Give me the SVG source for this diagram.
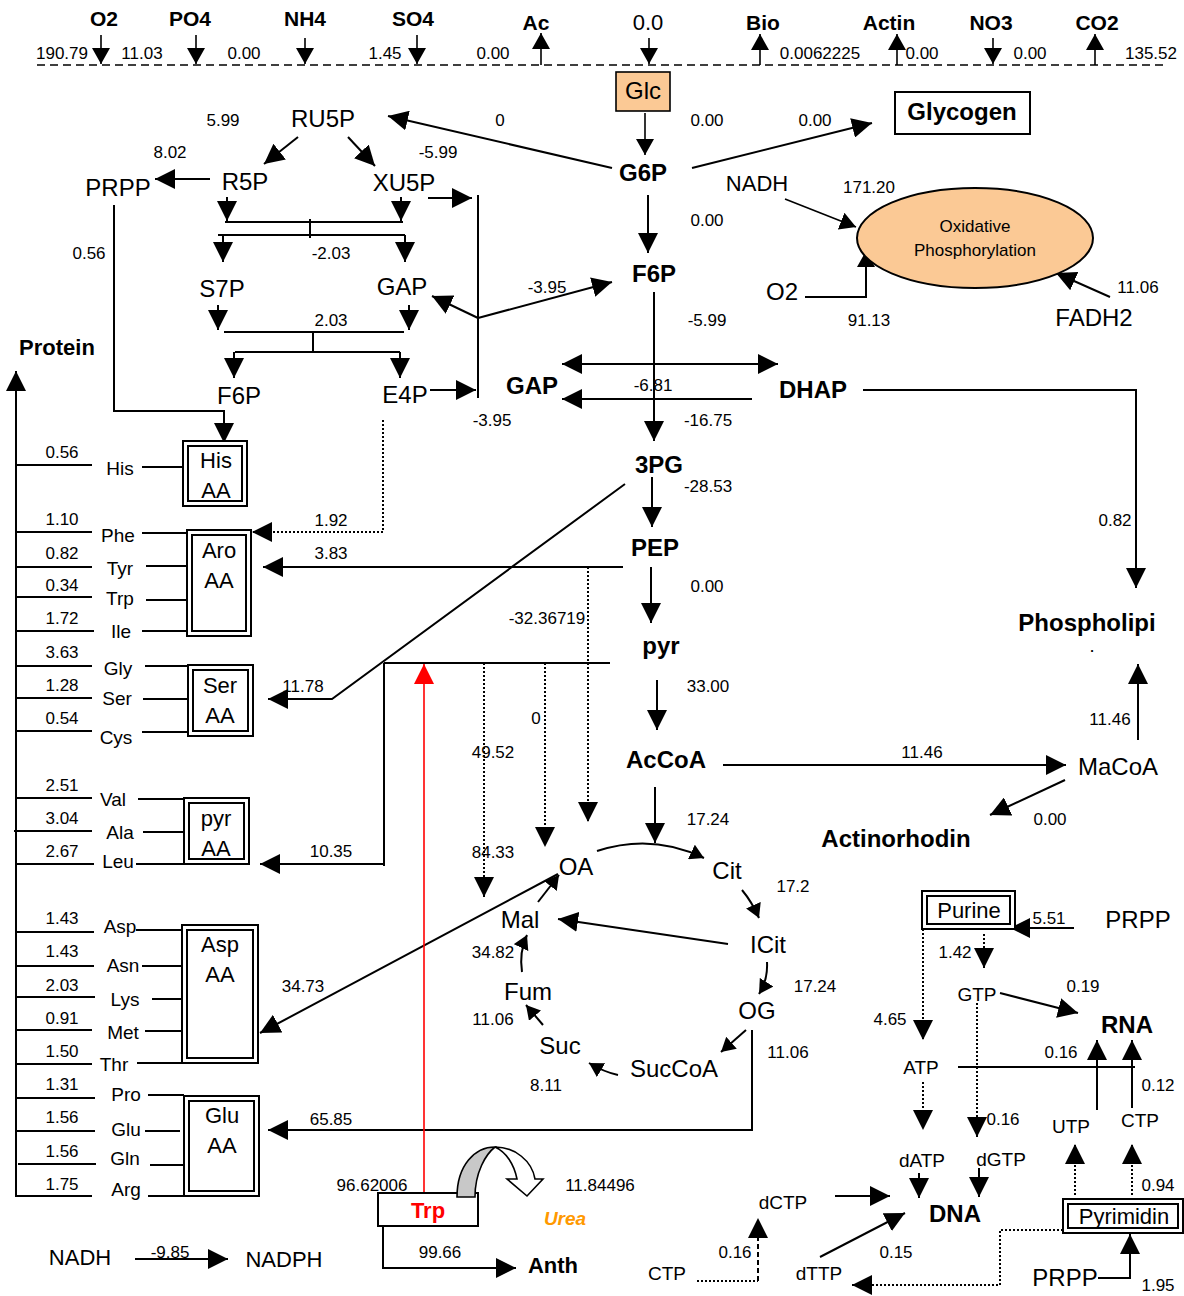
<svg xmlns="http://www.w3.org/2000/svg" width="1184" height="1296" viewBox="0 0 1184 1296">
<defs>
<style>
text{font-family:"Liberation Sans",Arial,sans-serif;text-anchor:middle;fill:#000}
.L{font-size:24px}
.M{font-size:22px}
.s{font-size:19px}
.n{font-size:17px}
.B{font-size:24px;font-weight:bold}
.H{font-size:21px;font-weight:bold}
.ln{stroke:#000;stroke-width:2;fill:none}
.th{stroke:#000;stroke-width:1.6;fill:none}
.dt{stroke:#000;stroke-width:2;fill:none;stroke-dasharray:2,2}
.bx{fill:#fff;stroke:#000;stroke-width:2}
.a{marker-end:url(#a)}
.m{marker-end:url(#m)}
.sm{marker-end:url(#s)}
</style>
<marker id="a" viewBox="0 0 20 20" refX="20" refY="10" markerWidth="20" markerHeight="20" orient="auto-start-reverse" markerUnits="userSpaceOnUse"><path d="M0,0 L20,10 L0,20 z" fill="#000"/></marker>
<marker id="m" viewBox="0 0 16 18" refX="16" refY="9" markerWidth="16" markerHeight="18" orient="auto" markerUnits="userSpaceOnUse"><path d="M0,0 L16,9 L0,18 z" fill="#000"/></marker>
<marker id="s" viewBox="0 0 14 16" refX="14" refY="8" markerWidth="14" markerHeight="16" orient="auto" markerUnits="userSpaceOnUse"><path d="M0,0 L14,8 L0,16 z" fill="#000"/></marker>
<marker id="r" viewBox="0 0 20 20" refX="20" refY="10" markerWidth="20" markerHeight="20" orient="auto" markerUnits="userSpaceOnUse"><path d="M0,0 L20,10 L0,20 z" fill="#f00"/></marker>
</defs>
<rect width="1184" height="1296" fill="#fff"/>

<g id="connectors">
<!-- boundary -->
<line x1="37" y1="65" x2="1165" y2="65" stroke="#000" stroke-width="1.6" stroke-dasharray="8,5"/>
<line class="th m" x1="101" y1="35" x2="101" y2="64"/>
<line class="th m" x1="196" y1="35" x2="196" y2="64"/>
<line class="th m" x1="305" y1="38" x2="305" y2="64"/>
<line class="th m" x1="417" y1="35" x2="417" y2="64"/>
<line class="th m" x1="541" y1="65" x2="541" y2="33"/>
<line class="th m" x1="649" y1="38" x2="649" y2="64"/>
<line class="th m" x1="760" y1="65" x2="760" y2="34"/>
<line class="th m" x1="897" y1="65" x2="897" y2="34"/>
<line class="th m" x1="993" y1="38" x2="993" y2="64"/>
<line class="th m" x1="1095" y1="65" x2="1095" y2="34"/>
<!-- glucose / pentose phosphate -->
<line class="th m" x1="645" y1="113" x2="645" y2="155"/>
<line class="ln a" x1="692" y1="168" x2="872" y2="123"/>
<line class="ln a" x1="612" y1="168" x2="388" y2="116"/>
<line class="ln a" x1="298" y1="137" x2="264" y2="164"/>
<line class="ln a" x1="348" y1="137" x2="375" y2="166"/>
<line class="ln a" x1="210" y1="179" x2="155" y2="179"/>
<line class="ln a" x1="428" y1="198" x2="472" y2="198"/>
<line class="ln" x1="478" y1="195" x2="478" y2="398"/>
<line class="ln a" x1="430" y1="390" x2="476" y2="390"/>
<line class="ln a" x1="478" y1="318" x2="432" y2="296"/>
<line class="ln a" x1="478" y1="318" x2="612" y2="282"/>
<line class="ln a" x1="227" y1="197" x2="227" y2="221"/>
<line class="ln a" x1="401" y1="197" x2="401" y2="221"/>
<line class="ln" x1="225" y1="222" x2="403" y2="222"/>
<line class="ln" x1="310" y1="219" x2="310" y2="238"/>
<line class="ln" x1="218" y1="235" x2="405" y2="235"/>
<line class="ln a" x1="223" y1="235" x2="223" y2="262"/>
<line class="ln a" x1="405" y1="235" x2="405" y2="262"/>
<line class="ln a" x1="218" y1="305" x2="218" y2="330"/>
<line class="ln a" x1="409" y1="305" x2="409" y2="330"/>
<line class="ln" x1="224" y1="332" x2="404" y2="332"/>
<line class="ln" x1="313" y1="332" x2="313" y2="352"/>
<line class="ln" x1="235" y1="352" x2="400" y2="352"/>
<line class="ln a" x1="234" y1="352" x2="234" y2="378"/>
<line class="ln a" x1="400" y1="352" x2="400" y2="378"/>
<polyline class="ln a" points="114,205 114,411 224,411 224,443"/>
<polyline class="dt a" points="383,420 383,532 252,532"/>
<!-- protein -->
<line class="ln a" x1="16" y1="1197" x2="16" y2="371"/>
<g class="ln">
<line x1="16" y1="465" x2="92" y2="465"/><line x1="142" y1="467" x2="183" y2="467"/>
<line x1="16" y1="532" x2="92" y2="532"/><line x1="142" y1="533" x2="187" y2="533"/>
<line x1="16" y1="567" x2="92" y2="567"/><line x1="146" y1="566" x2="187" y2="566"/>
<line x1="16" y1="597" x2="92" y2="597"/><line x1="146" y1="600" x2="187" y2="600"/>
<line x1="16" y1="631" x2="94" y2="631"/><line x1="142" y1="631" x2="187" y2="631"/>
<line x1="16" y1="666" x2="92" y2="666"/><line x1="145" y1="666" x2="188" y2="666"/>
<line x1="16" y1="698" x2="92" y2="698"/><line x1="143" y1="699" x2="188" y2="699"/>
<line x1="16" y1="731" x2="92" y2="731"/><line x1="142" y1="732" x2="188" y2="732"/>
<line x1="16" y1="798" x2="92" y2="798"/><line x1="138" y1="799" x2="184" y2="799"/>
<line x1="14" y1="831" x2="92" y2="831"/><line x1="143" y1="832" x2="184" y2="832"/>
<line x1="16" y1="864" x2="94" y2="864"/><line x1="136" y1="864" x2="184" y2="864"/>
<line x1="16" y1="932" x2="94" y2="932"/><line x1="136" y1="930" x2="182" y2="930"/>
<line x1="16" y1="966" x2="94" y2="966"/><line x1="142" y1="966" x2="182" y2="966"/>
<line x1="16" y1="997" x2="95" y2="997"/><line x1="152" y1="999" x2="182" y2="999"/>
<line x1="16" y1="1030" x2="92" y2="1030"/><line x1="145" y1="1031" x2="182" y2="1031"/>
<line x1="16" y1="1064" x2="92" y2="1064"/><line x1="137" y1="1063" x2="182" y2="1063"/>
<line x1="16" y1="1098" x2="95" y2="1098"/><line x1="148" y1="1095" x2="184" y2="1095"/>
<line x1="16" y1="1131" x2="95" y2="1131"/><line x1="145" y1="1131" x2="180" y2="1131"/>
<line x1="18" y1="1164" x2="96" y2="1164"/><line x1="150" y1="1165" x2="184" y2="1165"/>
<line x1="16" y1="1196" x2="92" y2="1196"/><line x1="148" y1="1196" x2="184" y2="1196"/>
</g>
<!-- feeds into amino acid boxes -->
<line class="ln a" x1="623" y1="567" x2="263" y2="567"/>
<polyline class="ln a" points="625,484 332,699 268,699"/>
<line class="ln" x1="610" y1="663" x2="384" y2="663"/>
<line class="ln" x1="384" y1="663" x2="384" y2="866"/>
<line class="ln a" x1="384" y1="864" x2="260" y2="864"/>
<line class="ln a" x1="558" y1="874" x2="260" y2="1033"/>
<polyline class="ln a" points="752,1030 752,1130 268,1130"/>
<line class="dt a" x1="484" y1="663" x2="484" y2="897"/>
<line class="dt a" x1="545" y1="663" x2="545" y2="847"/>
<line class="dt a" x1="588" y1="567" x2="588" y2="822"/>
<line x1="424" y1="1200" x2="424" y2="664" stroke="#f00" stroke-width="1.6" marker-end="url(#r)"/>
<polyline class="ln a" points="383,1226 383,1268 516,1268"/>
<line class="ln a" x1="135" y1="1259" x2="228" y2="1259"/>
<!-- glycolysis -->
<line class="ln a" x1="648" y1="195" x2="648" y2="253"/>
<line class="ln a" x1="654" y1="292" x2="654" y2="441"/>
<line class="ln a" x1="562" y1="364" x2="778" y2="364" marker-start="url(#a)"/>
<line class="ln a" x1="752" y1="399" x2="562" y2="399"/>
<polyline class="ln a" points="863,390 1136,390 1136,588"/>
<line class="ln a" x1="1138" y1="740" x2="1138" y2="664"/>
<line class="ln a" x1="723" y1="765" x2="1066" y2="765"/>
<line class="ln a" x1="1065" y1="780" x2="990" y2="815"/>
<line class="ln a" x1="652" y1="477" x2="652" y2="527"/>
<line class="ln a" x1="651" y1="567" x2="651" y2="623"/>
<line class="ln a" x1="657" y1="680" x2="657" y2="730"/>
<line class="ln a" x1="655" y1="787" x2="655" y2="843"/>
<!-- TCA -->
<path class="ln sm" d="M597,851 Q652,833 704,858"/>
<path class="ln sm" d="M742,890 Q752,902 759,918"/>
<path class="ln sm" d="M767,962 Q768,980 759,994"/>
<line class="ln sm" x1="746" y1="1030" x2="721" y2="1052"/>
<path class="ln sm" d="M618,1075 Q604,1072 589,1063"/>
<line class="ln sm" x1="543" y1="1025" x2="526" y2="1005"/>
<path class="ln sm" d="M522,972 Q519,952 527,935"/>
<line class="ln sm" x1="538" y1="902" x2="559" y2="875"/>
<line class="ln a" x1="728" y1="944" x2="558" y2="919"/>
<!-- oxidative phosphorylation -->
<line class="th m" x1="785" y1="199" x2="856" y2="227"/>
<polyline class="ln m" points="805,297 866,297 866,251"/>
<line class="ln a" x1="1110" y1="297" x2="1056" y2="273"/>
<!-- nucleotides -->
<line class="ln a" x1="1074" y1="928" x2="1010" y2="928"/>
<line class="dt a" x1="923" y1="929" x2="923" y2="1040"/>
<line class="dt a" x1="984" y1="934" x2="984" y2="968"/>
<line class="ln a" x1="1000" y1="993" x2="1078" y2="1013"/>
<line class="ln" x1="958" y1="1067" x2="1135" y2="1067"/>
<line class="ln a" x1="1097" y1="1110" x2="1097" y2="1040"/>
<line class="ln a" x1="1132" y1="1108" x2="1132" y2="1040"/>
<line class="dt a" x1="923" y1="1082" x2="923" y2="1130"/>
<line class="dt a" x1="977" y1="1003" x2="977" y2="1137"/>
<line class="ln a" x1="919" y1="1173" x2="919" y2="1198"/>
<line class="ln a" x1="979" y1="1168" x2="979" y2="1197"/>
<line class="ln a" x1="835" y1="1196" x2="890" y2="1196"/>
<line class="ln a" x1="820" y1="1257" x2="905" y2="1213"/>
<line class="dt" x1="697" y1="1281" x2="758" y2="1281"/>
<line x1="758" y1="1281" x2="758" y2="1218" stroke="#000" stroke-width="2" stroke-dasharray="5,3" marker-end="url(#a)"/>
<polyline class="dt a" points="1063,1230 1000,1230 1000,1285 852,1285"/>
<line class="dt a" x1="1075" y1="1195" x2="1075" y2="1144"/>
<line class="dt a" x1="1132" y1="1195" x2="1132" y2="1144"/>
<polyline class="ln a" points="1098,1278 1130,1278 1130,1234"/>
</g>

<g id="exchange-labels">
<text class="H" x="104" y="26">O2</text>
<text class="H" x="190" y="26">PO4</text>
<text class="H" x="305" y="26">NH4</text>
<text class="H" x="413" y="26">SO4</text>
<text class="H" x="536" y="30">Ac</text>
<text class="M" x="648" y="30">0.0</text>
<text class="H" x="763" y="30">Bio</text>
<text class="H" x="889" y="30">Actin</text>
<text class="H" x="991" y="30">NO3</text>
<text class="H" x="1097" y="30">CO2</text>
<text class="n" x="62" y="59">190.79</text>
<text class="n" x="142" y="59">11.03</text>
<text class="n" x="244" y="59">0.00</text>
<text class="n" x="385" y="59">1.45</text>
<text class="n" x="493" y="59">0.00</text>
<text class="n" x="820" y="59">0.0062225</text>
<text class="n" x="922" y="59">0.00</text>
<text class="n" x="1030" y="59">0.00</text>
<text class="n" x="1151" y="59">135.52</text>
</g>

<g id="Glc"><rect x="616" y="72" width="54" height="39" fill="#fbc995" stroke="#000" stroke-width="1.6"/><text class="L" x="643" y="99">Glc</text></g>
<g id="Glycogen"><rect class="bx" x="895" y="92" width="135" height="42"/><text class="B" x="962" y="120">Glycogen</text></g>
<g id="G6P"><text class="B" x="643" y="181">G6P</text></g>
<g id="RU5P"><text class="L" x="323" y="127">RU5P</text></g>
<g id="R5P"><text class="L" x="245" y="190">R5P</text></g>
<g id="XU5P"><text class="L" x="404" y="191">XU5P</text></g>
<g id="PRPP1"><text class="L" x="118" y="196">PRPP</text></g>
<g id="S7P"><text class="L" x="222" y="297">S7P</text></g>
<g id="GAP1"><text class="L" x="402" y="295">GAP</text></g>
<g id="F6P1"><text class="L" x="239" y="404">F6P</text></g>
<g id="E4P"><text class="L" x="405" y="403">E4P</text></g>
<g id="Protein"><text class="M" style="font-weight:bold" x="57" y="355">Protein</text></g>

<g id="HisAA"><rect class="bx" x="183" y="441" width="64" height="65"/><rect class="bx" x="188" y="446" width="54" height="55"/><text class="M" x="216" y="468">His</text><text class="M" x="216" y="498">AA</text></g>
<g id="AroAA"><rect class="bx" x="187" y="530" width="64" height="106"/><rect class="bx" x="192" y="535" width="54" height="96"/><text class="M" x="219" y="558">Aro</text><text class="M" x="219" y="588">AA</text></g>
<g id="SerAA"><rect class="bx" x="188" y="665" width="65" height="71"/><rect class="bx" x="193" y="670" width="55" height="61"/><text class="M" x="220" y="693">Ser</text><text class="M" x="220" y="723">AA</text></g>
<g id="pyrAA"><rect class="bx" x="184" y="798" width="65" height="66"/><rect class="bx" x="189" y="803" width="55" height="56"/><text class="M" x="216" y="826">pyr</text><text class="M" x="216" y="856">AA</text></g>
<g id="AspAA"><rect class="bx" x="182" y="925" width="76" height="138"/><rect class="bx" x="187" y="930" width="66" height="128"/><text class="M" x="220" y="952">Asp</text><text class="M" x="220" y="982">AA</text></g>
<g id="GluAA"><rect class="bx" x="184" y="1096" width="75" height="100"/><rect class="bx" x="189" y="1101" width="65" height="90"/><text class="M" x="222" y="1123">Glu</text><text class="M" x="222" y="1153">AA</text></g>

<g id="aa-labels">
<text class="s" x="120" y="475">His</text>
<text class="s" x="118" y="542">Phe</text>
<text class="s" x="120" y="575">Tyr</text>
<text class="s" x="120" y="605">Trp</text>
<text class="s" x="121" y="638">Ile</text>
<text class="s" x="118" y="675">Gly</text>
<text class="s" x="117" y="705">Ser</text>
<text class="s" x="116" y="744">Cys</text>
<text class="s" x="113" y="806">Val</text>
<text class="s" x="120" y="839">Ala</text>
<text class="s" x="118" y="868">Leu</text>
<text class="s" x="120" y="933">Asp</text>
<text class="s" x="123" y="972">Asn</text>
<text class="s" x="125" y="1006">Lys</text>
<text class="s" x="123" y="1039">Met</text>
<text class="s" x="114" y="1071">Thr</text>
<text class="s" x="126" y="1101">Pro</text>
<text class="s" x="126" y="1136">Glu</text>
<text class="s" x="125" y="1165">Gln</text>
<text class="s" x="126" y="1196">Arg</text>
<text class="n" x="62" y="458">0.56</text>
<text class="n" x="62" y="525">1.10</text>
<text class="n" x="62" y="559">0.82</text>
<text class="n" x="62" y="591">0.34</text>
<text class="n" x="62" y="624">1.72</text>
<text class="n" x="62" y="658">3.63</text>
<text class="n" x="62" y="691">1.28</text>
<text class="n" x="62" y="724">0.54</text>
<text class="n" x="62" y="791">2.51</text>
<text class="n" x="62" y="824">3.04</text>
<text class="n" x="62" y="857">2.67</text>
<text class="n" x="62" y="924">1.43</text>
<text class="n" x="62" y="957">1.43</text>
<text class="n" x="62" y="991">2.03</text>
<text class="n" x="62" y="1024">0.91</text>
<text class="n" x="62" y="1057">1.50</text>
<text class="n" x="62" y="1090">1.31</text>
<text class="n" x="62" y="1123">1.56</text>
<text class="n" x="62" y="1157">1.56</text>
<text class="n" x="62" y="1190">1.75</text>
</g>

<g id="glycolysis">
<g id="F6P"><text class="B" x="654" y="282">F6P</text></g>
<g id="GAP"><text class="B" x="532" y="394">GAP</text></g>
<g id="DHAP"><text class="B" x="813" y="398">DHAP</text></g>
<g id="3PG"><text class="B" x="659" y="473">3PG</text></g>
<g id="PEP"><text class="B" x="655" y="556">PEP</text></g>
<g id="pyr"><text class="B" x="661" y="654">pyr</text></g>
<g id="AcCoA"><text class="B" x="666" y="768">AcCoA</text></g>
</g>

<g id="Phospholipid"><text class="B" x="1087" y="631">Phospholipi</text><text x="1092" y="652" style="font-size:13px;font-weight:bold">.</text></g>
<g id="MaCoA"><text class="L" x="1118" y="775">MaCoA</text></g>
<g id="Actinorhodin"><text class="B" x="896" y="847">Actinorhodin</text></g>

<g id="OxPhos"><ellipse cx="975" cy="238" rx="118" ry="50" fill="#fbc995" stroke="#000" stroke-width="2"/><text class="n" x="975" y="232">Oxidative</text><text class="n" x="975" y="256">Phosphorylation</text></g>
<g id="NADH1"><text class="M" x="757" y="191">NADH</text></g>
<g id="O2b"><text class="L" x="782" y="300">O2</text></g>
<g id="FADH2"><text class="L" x="1094" y="326">FADH2</text></g>

<g id="TCA">
<g id="OA"><text class="L" x="576" y="875">OA</text></g>
<g id="Cit"><text class="L" x="727" y="879">Cit</text></g>
<g id="ICit"><text class="L" x="768" y="953">ICit</text></g>
<g id="OG"><text class="L" x="757" y="1019">OG</text></g>
<g id="SucCoA"><text class="L" x="674" y="1077">SucCoA</text></g>
<g id="Suc"><text class="L" x="560" y="1054">Suc</text></g>
<g id="Fum"><text class="L" x="528" y="1000">Fum</text></g>
<g id="Mal"><text class="L" x="520" y="928">Mal</text></g>
</g>

<g id="Trp"><rect class="bx" x="378" y="1193" width="100" height="33" stroke-width="1.6"/><text x="428" y="1218" style="font-size:22px;font-weight:bold;fill:#f00">Trp</text></g>
<g id="UreaArrow">
<path d="M457,1197 C457,1165 475,1147 495,1147 C486,1154 475,1172 475,1197 Z" fill="#c8c8c8" stroke="#000" stroke-width="1.6"/>
<path d="M495,1147 C515,1147 532,1161 535,1179 L543,1179 L527,1196 L507,1179 L517,1179 C514,1164 506,1152 495,1147 Z" fill="#fff" stroke="#000" stroke-width="1.6"/>
</g>
<g id="Urea"><text x="565" y="1225" style="font-size:19px;font-weight:bold;font-style:italic;fill:#f90">Urea</text></g>
<g id="Anth"><text class="M" style="font-weight:bold" x="553" y="1273">Anth</text></g>
<g id="NADH2"><text class="M" x="80" y="1265">NADH</text></g>
<g id="NADPH"><text class="M" x="284" y="1267">NADPH</text></g>

<g id="Purine"><rect class="bx" x="922" y="891" width="93" height="38"/><rect class="bx" x="927" y="896" width="83" height="28"/><text x="969" y="918" style="font-size:22px">Purine</text></g>
<g id="PRPP2"><text class="L" x="1138" y="928">PRPP</text></g>
<g id="GTP"><text class="s" x="977" y="1001">GTP</text></g>
<g id="RNA"><text class="B" x="1127" y="1033">RNA</text></g>
<g id="ATP"><text class="s" x="921" y="1074">ATP</text></g>
<g id="UTP"><text class="s" x="1071" y="1133">UTP</text></g>
<g id="CTP1"><text class="s" x="1140" y="1127">CTP</text></g>
<g id="dATP"><text class="s" x="922" y="1167">dATP</text></g>
<g id="dGTP"><text class="s" x="1001" y="1166">dGTP</text></g>
<g id="DNA"><text class="B" x="955" y="1222">DNA</text></g>
<g id="dCTP"><text class="s" x="783" y="1209">dCTP</text></g>
<g id="dTTP"><text class="s" x="819" y="1280">dTTP</text></g>
<g id="CTP2"><text class="s" x="667" y="1280">CTP</text></g>
<g id="Pyrimidin"><rect class="bx" x="1063" y="1199" width="120" height="34"/><rect class="bx" x="1068" y="1204" width="110" height="24"/><text x="1124" y="1224" style="font-size:22px">Pyrimidin</text></g>
<g id="PRPP3"><text class="L" x="1065" y="1286">PRPP</text></g>

<g id="flux-labels" class="n">
<text class="n" x="223" y="126">5.99</text>
<text class="n" x="500" y="126">0</text>
<text class="n" x="707" y="126">0.00</text>
<text class="n" x="815" y="126">0.00</text>
<text class="n" x="170" y="158">8.02</text>
<text class="n" x="438" y="158">-5.99</text>
<text class="n" x="331" y="259">-2.03</text>
<text class="n" x="331" y="326">2.03</text>
<text class="n" x="89" y="259">0.56</text>
<text class="n" x="492" y="426">-3.95</text>
<text class="n" x="547" y="293">-3.95</text>
<text class="n" x="331" y="526">1.92</text>
<text class="n" x="331" y="559">3.83</text>
<text class="n" x="303" y="692">11.78</text>
<text class="n" x="331" y="857">10.35</text>
<text class="n" x="303" y="992">34.73</text>
<text class="n" x="331" y="1125">65.85</text>
<text class="n" x="707" y="226">0.00</text>
<text class="n" x="707" y="326">-5.99</text>
<text class="n" x="653" y="391">-6.81</text>
<text class="n" x="708" y="426">-16.75</text>
<text class="n" x="708" y="492">-28.53</text>
<text class="n" x="707" y="592">0.00</text>
<text class="n" x="547" y="624">-32.36719</text>
<text class="n" x="708" y="692">33.00</text>
<text class="n" x="708" y="825">17.24</text>
<text class="n" x="536" y="724">0</text>
<text class="n" x="493" y="758">49.52</text>
<text class="n" x="493" y="858">84.33</text>
<text class="n" x="793" y="892">17.2</text>
<text class="n" x="815" y="992">17.24</text>
<text class="n" x="788" y="1058">11.06</text>
<text class="n" x="546" y="1091">8.11</text>
<text class="n" x="493" y="1025">11.06</text>
<text class="n" x="493" y="958">34.82</text>
<text class="n" x="869" y="193">171.20</text>
<text class="n" x="869" y="326">91.13</text>
<text class="n" x="1138" y="293">11.06</text>
<text class="n" x="1115" y="526">0.82</text>
<text class="n" x="1110" y="725">11.46</text>
<text class="n" x="922" y="758">11.46</text>
<text class="n" x="1050" y="825">0.00</text>
<text class="n" x="1049" y="924">5.51</text>
<text class="n" x="955" y="958">1.42</text>
<text class="n" x="890" y="1025">4.65</text>
<text class="n" x="1083" y="992">0.19</text>
<text class="n" x="1061" y="1058">0.16</text>
<text class="n" x="1158" y="1091">0.12</text>
<text class="n" x="1003" y="1125">0.16</text>
<text class="n" x="896" y="1258">0.15</text>
<text class="n" x="735" y="1258">0.16</text>
<text class="n" x="1158" y="1191">0.94</text>
<text class="n" x="1158" y="1291">1.95</text>
<text class="n" x="372" y="1191">96.62006</text>
<text class="n" x="600" y="1191">11.84496</text>
<text class="n" x="440" y="1258">99.66</text>
<text class="n" x="170" y="1258">-9.85</text>
</g>
</svg>
